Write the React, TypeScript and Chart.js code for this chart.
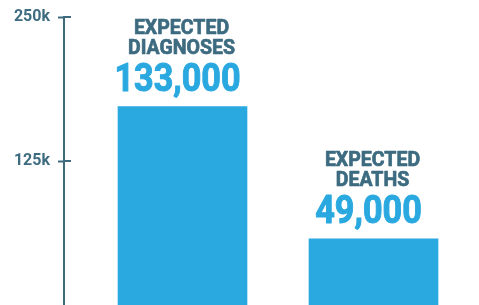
import React, { useEffect, useRef } from "react";
import { Chart, registerables } from "chart.js";

Chart.register(...registerables);

const categories = ["EXPECTED DIAGNOSES", "EXPECTED DEATHS"];
const labelLines = [
  ["EXPECTED", "DIAGNOSES"],
  ["EXPECTED", "DEATHS"],
];
const values = [133000, 49000];
const valueLabels = ["133,000", "49,000"];
const tickValues = [125000, 250000];
const tickLabels = ["125k", "250k"];

const AXIS = "#3f6a7e";
const DARK = "#3d6b80";
const BLUE = "#2aa8e0";
const FONT = 'Roboto, "Liberation Sans", sans-serif';

function drawScaled(ctx: any, text: string, x: number, y: number, sx: number, lw: number) {
  ctx.save();
  ctx.translate(x, y);
  ctx.scale(sx, 1);
  ctx.fillText(text, 0, 0);
  ctx.lineWidth = lw;
  ctx.lineJoin = "round";
  ctx.strokeText(text, 0, 0);
  ctx.restore();
}

const annotate = {
  id: "annotate",
  afterDatasetsDraw(chart: any) {
    const ctx = chart.ctx;
    const meta = chart.getDatasetMeta(0);
    ctx.save();
    ctx.textAlign = "center";
    ctx.textBaseline = "alphabetic";
    meta.data.forEach((el: any, i: number) => {
      ctx.fillStyle = BLUE;
      ctx.strokeStyle = BLUE;
      ctx.font = `bold 38px ${FONT}`;
      drawScaled(ctx, valueLabels[i], el.x - 5, el.y - 16, 0.9, 1);
      ctx.fillStyle = DARK;
      ctx.strokeStyle = DARK;
      ctx.font = `bold 21px ${FONT}`;
      drawScaled(ctx, labelLines[i][1], el.x - 1, el.y - 52.5, 0.93, 0.7);
      drawScaled(ctx, labelLines[i][0], el.x - 1, el.y - 73, 0.93, 0.7);
    });
    ctx.restore();
  },
  afterDraw(chart: any) {
    const ctx = chart.ctx;
    const ys = chart.scales.y;
    const x0 = ys.right;
    ctx.save();
    ctx.strokeStyle = AXIS;
    ctx.lineWidth = 2;
    ys.ticks.forEach((t: any) => {
      const py = Math.round(ys.getPixelForValue(t.value));
      ctx.beginPath();
      ctx.moveTo(x0, py);
      ctx.lineTo(x0 + 7, py);
      ctx.stroke();
    });
    ctx.restore();
  },
};

export default function App() {
  const ref = useRef<HTMLCanvasElement>(null);
  useEffect(() => {
    document.body.style.margin = "0";
    const chart = new Chart(ref.current!, {
      type: "bar",
      data: {
        labels: categories,
        datasets: [
          {
            data: values,
            yAxisID: "yBars",
            backgroundColor: BLUE,
            borderWidth: 0,
            barThickness: 129,
          },
        ],
      },
      options: {
        animation: false,
        responsive: true,
        maintainAspectRatio: false,
        layout: { padding: { top: 17, right: 10, bottom: 0, left: 0 } },
        plugins: { legend: { display: false }, tooltip: { enabled: false } },
        scales: {
          x: { display: false, offset: true },
          y: {
            position: "left",
            weight: 1,
            min: 0,
            max: 250000,
            afterBuildTicks: (s: any) => {
              s.ticks = tickValues.map((v) => ({ value: v }));
            },
            afterFit: (s: any) => {
              s.width = 64;
              s.paddingBottom = 0;
              s.paddingTop = 0;
            },
            ticks: {
              padding: 8,
              color: DARK,
              font: { family: FONT, size: 16, weight: "bold" },
              callback: (v: any) => tickLabels[tickValues.indexOf(Number(v))] ?? "",
            },
            grid: {
              drawOnChartArea: false,
              drawTicks: true,
              tickLength: 6,
              tickWidth: 2,
              color: AXIS,
            },
            border: { display: true, color: AXIS, width: 2 },
          },
          yBars: {
            position: "left",
            weight: 0,
            min: 7000,
            max: 190000,
            afterFit: (s: any) => {
              s.width = 23;
              s.paddingBottom = 0;
              s.paddingTop = 0;
            },
            ticks: { display: false },
            grid: { display: false },
            border: { display: false },
          },
        },
      },
      plugins: [annotate],
    });
    return () => chart.destroy();
  }, []);
  return (
    <div style={{ width: 479, height: 305, position: "relative" }}>
      <canvas ref={ref} />
    </div>
  );
}
